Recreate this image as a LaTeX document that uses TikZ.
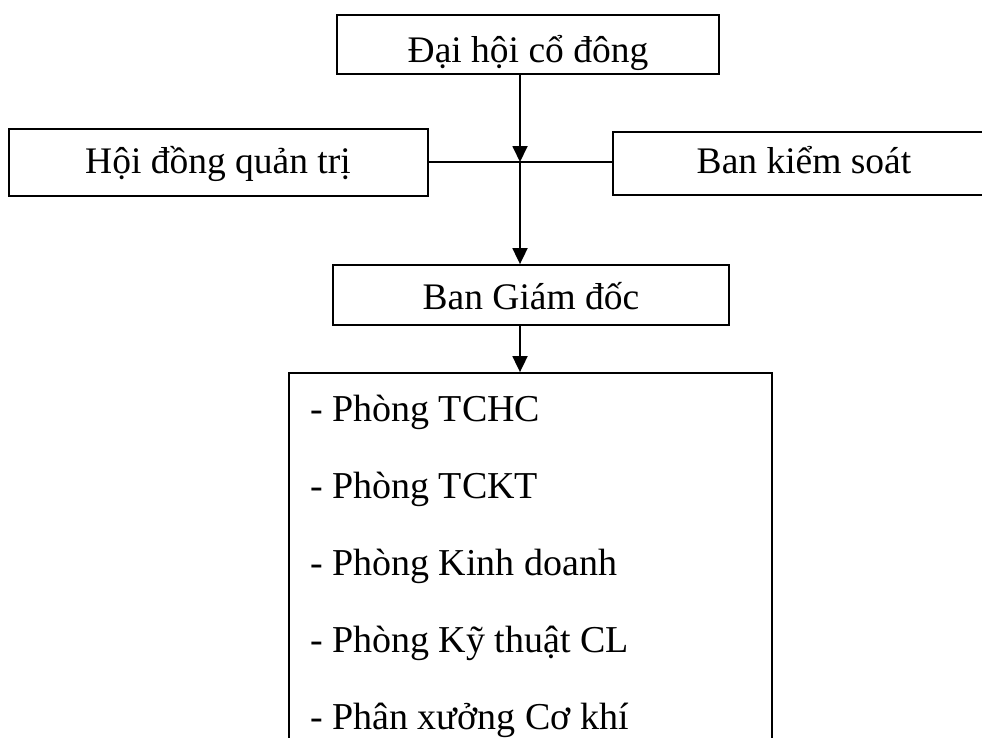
\documentclass[tikz,border=0pt]{standalone}
\usepackage{fontspec}
\setmainfont{Liberation Serif}
\usetikzlibrary{arrows.meta}
\begin{document}
\begin{tikzpicture}[x=1pt,y=-1pt,
  box/.style={draw, line width=1.8pt, rectangle, inner sep=0pt},
  txt/.style={inner sep=0pt, anchor=base, font=\fontsize{37.5}{44}\selectfont},
  item/.style={inner sep=0pt, anchor=base west, font=\fontsize{38}{44}\selectfont},
  conn/.style={line width=1.8pt},
  arr/.style={line width=1.8pt, -{Triangle[length=16pt,width=15pt]}}]
\path[use as bounding box, clip] (0,0) rectangle (982,737);
% boxes
\node[box, minimum width=382pt, minimum height=59pt] (dhcd) at (528,44.5) {};
\node[box, minimum width=419pt, minimum height=67pt] (hdqt) at (218.5,162.5) {};
\node[box, minimum width=382pt, minimum height=63pt] (bks) at (804,163.5) {};
\node[box, minimum width=396pt, minimum height=60pt] (bgd) at (531,295) {};
\node[box, minimum width=483pt, minimum height=400pt] (pb) at (530.5,573) {};
% texts
\node[txt] (dhcdt) at (528,62) {Đại hội cổ đông};
\node[txt] (hdqtt) at (218,173) {Hội đồng quản trị};
\node[txt] (bkst) at (804,173) {Ban kiểm soát};
\node[txt] (bgdt) at (531,309) {Ban Giám đốc};
\node[item] (p1) at (310,421) {- Phòng TCHC};
\node[item] (p2) at (310,498) {- Phòng TCKT};
\node[item] (p3) at (310,575) {- Phòng Kinh doanh};
\node[item] (p4) at (310,652) {- Phòng Kỹ thuật CL};
\node[item] (p5) at (310,729) {- Phân xưởng Cơ khí};
% connectors
\coordinate (j) at (520,162);
\draw[conn] (hdqt.east |- j) -- (bks.west |- j);
\draw[arr] (dhcd.south -| j) -- (j);
\draw[arr] (j) -- (bgd.north -| j);
\draw[arr] (bgd.south -| j) -- (pb.north -| j);
\end{tikzpicture}
\end{document}
